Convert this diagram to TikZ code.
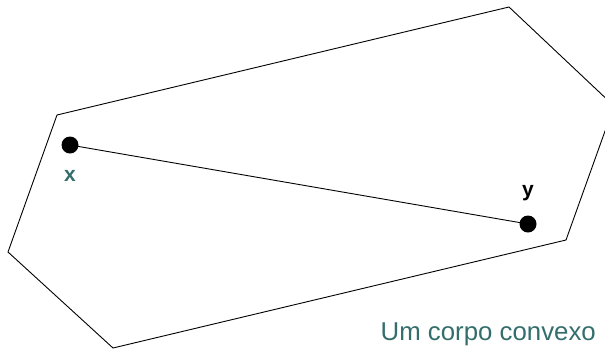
\documentclass[tikz,border=0pt]{standalone}
\usepackage{fontspec}
\setmainfont{Liberation Sans}
\definecolor{teal1}{RGB}{52,110,108}
\begin{document}
\begin{tikzpicture}[x=1bp,y=-1bp,
  dot/.style={circle,fill=black,inner sep=0pt,minimum size=17bp},
  edge/.style={draw=black,line width=0.9bp}]
\useasboundingbox (0,0) rectangle (605,350);
\begin{scope}
\clip (0,0) rectangle (605,350);
\draw[edge,line join=miter] (57,115) -- (509,7) -- (614,106) -- (566,240) -- (113,348) -- (8,252) -- cycle;
\end{scope}
\node[dot] (x) at (70,145) {};
\node[dot] (y) at (528,224) {};
\draw[edge] (x.center) -- (y.center);
\node[font=\fontsize{21bp}{24bp}\selectfont\bfseries,text=teal1,inner sep=0pt,anchor=base] (xl) at (70,181) {x};
\node[font=\fontsize{21bp}{24bp}\selectfont\bfseries,text=black,inner sep=0pt,anchor=base] (yl) at (528,196) {y};
\node[font=\fontsize{25.8bp}{30bp}\selectfont,text=teal1,inner sep=0pt,anchor=base east] (lab) at (596,340) {Um corpo convexo};
\end{tikzpicture}
\end{document}
